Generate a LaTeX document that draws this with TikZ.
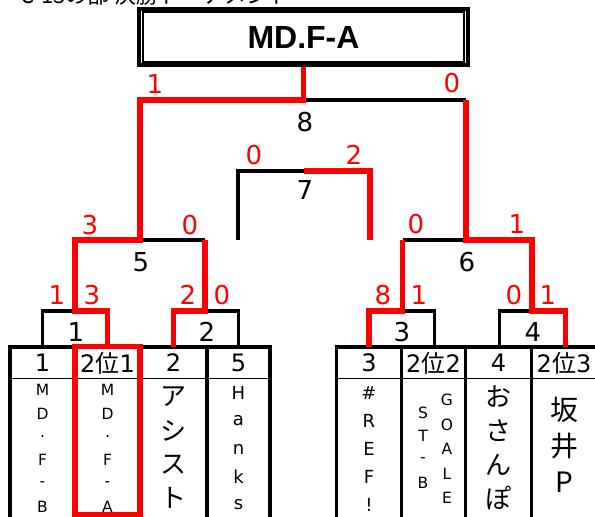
\documentclass[tikz,border=0pt]{standalone}
\usepackage{fontspec}
\setmainfont{DejaVu Sans}
\newfontfamily\cjk{Noto Sans CJK JP}
\newfontfamily\titlefont{Liberation Sans}
\begin{document}
\begin{tikzpicture}[x=1pt,y=-1pt,
    win/.style={red,line width=5.5pt},
    lose/.style={line width=3.5pt},
    score/.style={red,inner sep=0pt,font=\fontsize{26}{26}\selectfont},
    gameno/.style={inner sep=0pt,font=\fontsize{26}{26}\selectfont},
    seed/.style={inner sep=0pt,font=\fontsize{24}{24}\selectfont},
    nameS/.style={inner sep=0pt,font=\fontsize{15.5}{15.5}\selectfont},
    nameM/.style={inner sep=0pt,font=\fontsize{18}{18}\selectfont},
    nameL/.style={inner sep=0pt,font=\cjk\fontsize{26}{26}\selectfont},
    nameX/.style={inner sep=0pt,font=\cjk\fontsize{28}{28}\selectfont}]
\useasboundingbox (0,0) rectangle (595,517);
% heading, cut off by the top of the sheet
\node[anchor=base west,inner sep=0pt,font=\cjk\fontsize{22}{22}\selectfont] (heading) at (20,3) {C-13の部 決勝トーナメント};
% winner box
\node[draw,line width=4pt,minimum width=329pt,minimum height=56pt,
  font=\titlefont\bfseries\fontsize{32}{32}\selectfont] (champ) at (303.5,37) {MD.F-A};
\draw[line width=2pt] ([shift={(6,5)}]champ.north west) rectangle ([shift={(-6,-5)}]champ.south east);
% games: left end, middle, right end
\foreach \g/\l/\m/\r/\y in {8/140/303.5/466/100, 5/75/140/205/240, 6/402.5/466/532/240,
    7/238/303.5/370/171, 1/42.5/75/107.5/311, 2/173.5/205/238.5/311,
    3/369/402.5/434.5/311, 4/499.5/532/565.5/311}
  \path (\l,\y) coordinate (g\g l) (\m,\y) coordinate (g\g m) (\r,\y) coordinate (g\g r);
\coordinate (top) at (0,347);
% seed tables
\draw[lose] (10,530)--(10,347)--(270,347)--(270,530)
  (75,347)--(75,530) (140,347)--(140,530) (207,347)--(207,530);
\draw[lose] (336.5,530)--(336.5,347)--(600,347)
  (401.5,347)--(401.5,530) (465.5,347)--(465.5,530) (531.5,347)--(531.5,530) (598,347)--(598,530);
\draw[line width=1pt] (10,378)--(270,378) (336.5,378)--(600,378);
% losers
\draw[lose] (g8m)--(g8r);
\draw[lose] (g5m)--(g5r);
\draw[lose] (g6l)--(g6m);
\draw[lose] (g7l |- g5m)--(g7l)--(g7m);
\draw[lose] (g1l |- top)--(g1l)--(g1m);
\draw[lose] (g2m)--(g2r)--(g2r |- top);
\draw[lose] (g3m)--(g3r)--(g3r |- top);
\draw[lose] (g4l |- top)--(g4l)--(g4m);
% winners
\draw[win] (champ.south)--(g8m)--(g8l)--(g5m)--(g5l)--(g1m)--(g1r)--(g1r |- top);
\draw[win] (g8r)--(g6m)--(g6r)--(g4m)--(g4r)--(g4r |- top);
\draw[win] (g5r)--(g2m)--(g2l)--(g2l |- top);
\draw[win] (g6l)--(g3m)--(g3l)--(g3l |- top);
\draw[win] (g7m)--(g7r)--(g7r |- g5m);
\draw[win] (75,346.5) rectangle (140,515);
% scores
\foreach \x/\y/\t [count=\i] in {155/84/1, 452/83/0, 254/155/0, 354/155/2, 90/225/3, 190/225/0,
    416/224/0, 517/224/1, 57/295/1, 92/295/3, 188/295/2, 222/295/0, 383/295/8, 419/295/1,
    514/295/0, 548/295/1}
  \node[score] (sc\i) at (\x,\y) {\t};
\foreach \x/\y/\t in {305/122/8, 305/190/7, 141/262/5, 467/262/6, 76/332/1, 207/332/2,
    402/332/3, 533/332/4}
  \node[gameno] (no\t) at (\x,\y) {\t};
% seeds
\foreach \x/\t [count=\i] in {42.5/1, 107.5/2{\cjk 位}1, 173.5/2, 238.5/5, 369/3,
    433.5/2{\cjk 位}2, 498.5/4, 564/2{\cjk 位}3}
  \node[seed] (seed\i) at (\x,363) {\t};
% team names, one letter under the other
\foreach \n/\x/\y/\d/\f/\w in {a/42.5/390/23.4/nameS/{M,D,.,F,-,B},
    b/107.5/390/23.4/nameS/{M,D,.,F,-,A}, c/173.5/397/33.7/nameL/{ア,シ,ス,ト},
    d/238.5/393/28/nameM/{H,a,n,k,s}, e/369/393/28/nameM/{\#,R,E,F,!},
    f/423/413/23.3/nameS/{S,T,-,B}, g/447/400/24.5/nameS/{G,O,A,L,E},
    h/498.5/397/33.7/nameL/{お,さ,ん,ぽ}, i/564/410/36/nameX/{坂,井,P}}
  \foreach \c [count=\k] in \w
    \node[\f] (\n\k) at (\x,{\y+\d*(\k-1)}) {\c};
\end{tikzpicture}
\end{document}
